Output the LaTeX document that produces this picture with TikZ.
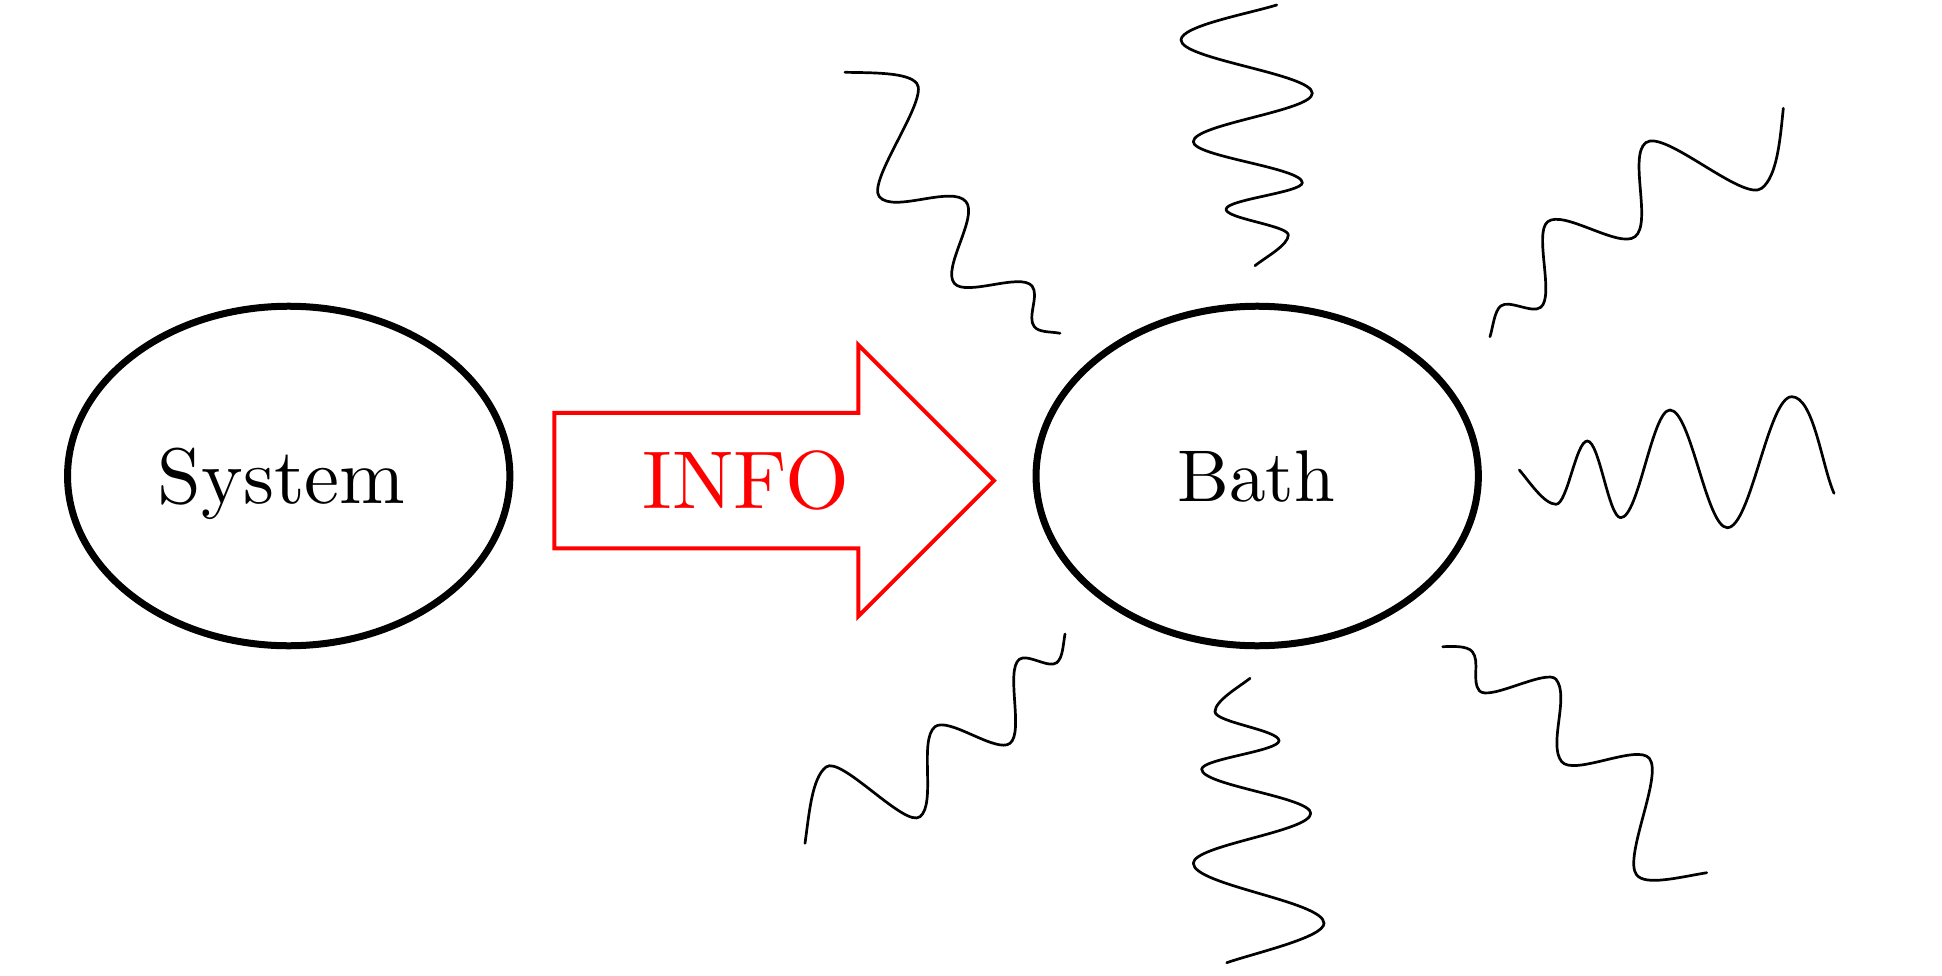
\documentclass[tikz,border=0pt]{standalone}
\usepackage{graphicx}
\usetikzlibrary{shapes.geometric}
\definecolor{infored}{RGB}{255,0,0}
\tikzset{
  bubble/.style={draw=black, ellipse, line width=0.14cm, minimum width=8.848cm,
    minimum height=6.792cm, inner sep=0pt, text depth=0pt,
    font=\fontsize{10}{12}\selectfont},
  wave/.style={draw=black, line width=0.054cm, line cap=round, line join=round},
  infoarrow/.style={draw=infored, line width=0.08cm, line join=miter},
  infotext/.style={text=infored, inner sep=0pt, font=\fontsize{10}{12}\selectfont}
}
\begin{document}
\begin{tikzpicture}[x=0.02cm, y=-0.02cm]
\useasboundingbox (0,0) rectangle (1942,976);

% main nodes
\node[bubble] (system) at (288.7,476) {\scalebox{4.48}{System}\kern8pt};
\node[bubble] (bath) at (1257.2,476) {\scalebox{4.17}{Bath}\kern1pt};

% information arrow
\draw[infoarrow] (554.3,412.8) -- (858.3,412.8) -- (858.3,344.9) -- (994,480.6)
  -- (858.3,616.3) -- (858.3,548.4) -- (554.3,548.4) -- cycle;
\node[infotext] (info) at (745.8,480.5) {\scalebox{4.67}{INFO}};

% wave: right
\draw[wave] (1519.3,470) .. controls +(49:15) and +(180:12) .. (1556,504.3)
  .. controls +(0:11.4) and +(180:11.4) .. (1587.3,441)
  .. controls +(0:12.1) and +(180:12.1) .. (1620.7,517.7)
  .. controls +(0:17.9) and +(180:17.9) .. (1670,410)
  .. controls +(0:20.8) and +(180:20.8) .. (1727.3,527.7)
  .. controls +(0:23.4) and +(180:23.4) .. (1791.7,396.7)
  .. controls +(0:22) and +(246:30) .. (1834,493.3);

% wave: top
\draw[wave] (1255,265.7) .. controls +(-38.7:14) and +(90:10) .. (1288.3,235)
  .. controls +(-90:9.3) and +(90:9.3) .. (1226,209.3)
  .. controls +(-90:9.7) and +(90:9.7) .. (1302.3,182.7)
  .. controls +(-90:14.9) and +(90:14.9) .. (1193.3,141.7)
  .. controls +(-90:17.6) and +(90:17.6) .. (1312.3,93.3)
  .. controls +(-90:19.3) and +(90:19.3) .. (1181,40)
  .. controls +(-90:14) and +(163:30) .. (1276.7,5);

% wave: bottom
\draw[wave] (1250,678.3) .. controls +(141.8:14) and +(-90:11) .. (1215,711.7)
  .. controls +(90:10.5) and +(-90:10.5) .. (1279,740.7)
  .. controls +(90:10.4) and +(-90:10.4) .. (1201.7,769.3)
  .. controls +(90:16) and +(-90:16) .. (1310.7,813.3)
  .. controls +(90:18.2) and +(-90:18.2) .. (1193.3,863.3)
  .. controls +(90:21.8) and +(-90:21.8) .. (1324,923.3)
  .. controls +(90:14) and +(-19:30) .. (1226.7,962.7);

% wave: top right
\draw[wave] (1490,336.7) .. controls +(-73:10) and +(142:8) .. (1500.7,306)
  .. controls +(-38:11) and +(142:11) .. (1540.7,307.3)
  .. controls +(-38:18) and +(142:18) .. (1547.7,221.7)
  .. controls +(-38:20) and +(142:20) .. (1635,236.7)
  .. controls +(-38:22) and +(142:22) .. (1645.7,142.7)
  .. controls +(-38:23) and +(142:23) .. (1761.7,188.3)
  .. controls +(-38:20) and +(96:30) .. (1783.3,108.3);

% wave: bottom left
\draw[wave] (1065,634) .. controls +(100.8:10) and +(-38:8) .. (1056.7,662.7)
  .. controls +(142:10) and +(-38:10) .. (1019.3,659.3)
  .. controls +(142:18) and +(-38:18) .. (1010,743.3)
  .. controls +(142:17) and +(-38:17) .. (935,726.7)
  .. controls +(142:21) and +(-38:21) .. (920,816.7)
  .. controls +(142:19) and +(-38:19) .. (826,767)
  .. controls +(142:18) and +(-82:30) .. (805,843.3);

% wave: top left
\draw[wave] (1060,333.3) .. controls +(192:9) and +(50.5:8) .. (1034.3,326.7)
  .. controls +(230.5:12) and +(50.5:12) .. (1032,286)
  .. controls +(230.5:17.8) and +(50.5:17.8) .. (954.3,283.3)
  .. controls +(230.5:19.7) and +(50.5:19.7) .. (966,201.7)
  .. controls +(230.5:22) and +(50.5:22) .. (879.3,196.7)
  .. controls +(230.5:20) and +(50.5:20) .. (916.7,83.3)
  .. controls +(230.5:14) and +(1:30) .. (845,72.3);

% wave: bottom right
\draw[wave] (1442.7,646.7) .. controls +(-2:10) and +(230.5:8) .. (1472.3,651.7)
  .. controls +(50.5:12.5) and +(230.5:12.5) .. (1479.3,690.7)
  .. controls +(50.5:14.4) and +(230.5:14.4) .. (1556,679.3)
  .. controls +(50.5:22) and +(230.5:22) .. (1561.7,761.7)
  .. controls +(50.5:19) and +(230.5:19) .. (1649.3,758.3)
  .. controls +(50.5:22) and +(230.5:22) .. (1636.7,875)
  .. controls +(50.5:14) and +(170.4:30) .. (1706.7,872.7);
\end{tikzpicture}
\end{document}
